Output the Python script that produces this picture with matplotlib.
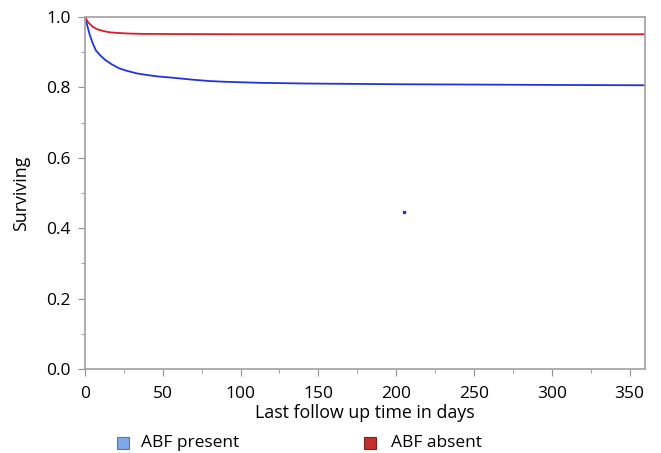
import numpy as np
import matplotlib.pyplot as plt
from matplotlib.lines import Line2D

plt.rcParams['font.family'] = ['Open Sans', 'DejaVu Sans']

# survival curves
days_present = [0, 1.5, 3, 5, 7, 10, 13, 17, 22, 27, 33, 40, 47, 55, 69, 80, 90, 112, 142, 200, 250, 300, 360]
surv_present = [1.0, 0.975, 0.95, 0.925, 0.905, 0.89, 0.878, 0.866, 0.854, 0.847, 0.84, 0.835, 0.831, 0.828, 0.822, 0.818, 0.816, 0.813, 0.811, 0.809, 0.808, 0.807, 0.806]
days_absent = [0, 2, 5, 8, 11, 15, 20, 28, 37, 60, 100, 200, 360]
surv_absent = [1.0, 0.985, 0.972, 0.965, 0.961, 0.957, 0.955, 0.953, 0.952, 0.9515, 0.951, 0.951, 0.951]
stray_x = [205]
stray_y = [0.445]

labels = ['ABF present', 'ABF absent']

fig = plt.figure(figsize=(6.61, 4.53), dpi=100)
ax = fig.add_axes([0.1286, 0.1854, 0.8474, 0.7771])

ax.plot(days_present, surv_present, color='#2233dd', lw=1.3)
ax.plot(days_absent, surv_absent, color='#dd1c2c', lw=1.3)
ax.plot(stray_x, stray_y, 's', color='#2233dd', ms=1.8)

ax.set_xlim(0, 360)
ax.set_ylim(0, 1.0)
ax.set_xticks(np.arange(0, 351, 50))
ax.set_xticks(np.arange(25, 351, 50), minor=True)
ax.set_yticks(np.arange(0, 1.01, 0.2))
ax.set_yticks(np.arange(0.1, 1.0, 0.2), minor=True)
ax.set_yticklabels([f'{v:.1f}' for v in np.arange(0, 1.01, 0.2)])

for s in ax.spines.values():
    s.set_color('#a0a0a0')
    s.set_linewidth(1.2)
ax.tick_params(which='both', color='#909090', labelsize=12.5, direction='out')
ax.tick_params(which='major', length=5)
ax.tick_params(which='minor', length=3)
ax.tick_params(axis='x', pad=7)
ax.tick_params(axis='y', pad=5)

ax.set_xlabel('Last follow up time in days', fontsize=12.8, labelpad=2)
ax.set_ylabel('Surviving', fontsize=12.8, labelpad=12)

# legend below the plot
ly = 1 - 443 / 453
fig.add_artist(Line2D([123 / 661], [ly], marker='s', ms=8.5, color='#7fa8e8',
                      mec='#5577aa', mew=0.8, transform=fig.transFigure))
fig.text(141 / 661, ly, labels[0], fontsize=12.5, va='center')
fig.add_artist(Line2D([370 / 661], [ly], marker='s', ms=8.5, color='#c0302a',
                      mec='#802020', mew=0.8, transform=fig.transFigure))
fig.text(391 / 661, ly, labels[1], fontsize=12.5, va='center')

fig.savefig('out.png', dpi=100)
